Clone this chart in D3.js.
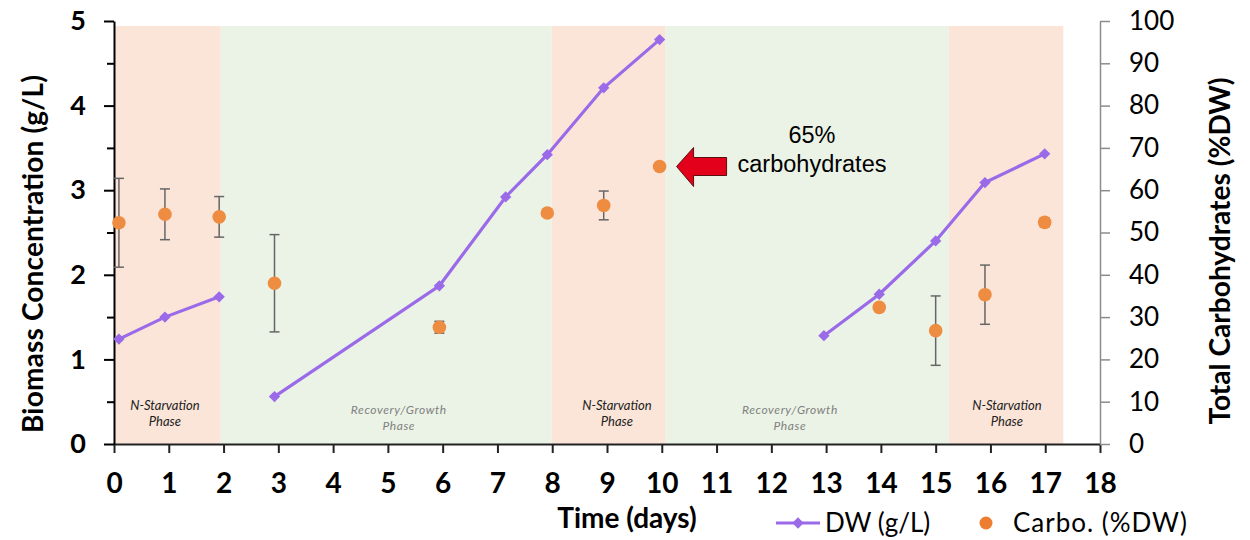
<!DOCTYPE html>
<html>
<head>
<meta charset="utf-8">
<script src="https://cdn.jsdelivr.net/npm/d3@7"></script>
<style>
  body { margin: 0; background: #fff; }
  svg { display: block; }
</style>
</head>
<body>
<div id="chart"></div>
<script>
// dry weight (g/L), left axis; segment id breaks the line between runs
var dwDays = [0.09, 0.93, 1.92, 2.93, 5.94, 7.15, 7.91, 8.94, 9.96, 12.96, 13.97, 15.0, 15.9, 16.99];
var dwVals = [1.24, 1.50, 1.74, 0.56, 1.87, 2.92, 3.42, 4.21, 4.78, 1.28, 1.77, 2.40, 3.09, 3.43];
var dwSeg  = [0, 0, 0, 1, 1, 1, 1, 1, 1, 2, 2, 2, 2, 2];

// total carbohydrates (%DW), right axis, with error half-widths
var carboDays = [0.09, 0.93, 1.92, 2.93, 5.94, 7.91, 8.94, 9.96, 13.97, 15.0, 15.9, 16.99];
var carboVals = [52.3, 54.3, 53.7, 38.0, 27.6, 54.6, 56.4, 65.6, 32.3, 26.8, 35.3, 52.4];
var carboErr  = [10.5, 6.0, 4.8, 11.5, 1.4, 0, 3.4, 0, 0, 8.2, 7.0, 1.0];

// shaded phases
var phaseStart = [0, 1.95, 7.99, 10.07, 15.24];
var phaseEnd   = [1.95, 7.99, 10.07, 15.24, 17.33];
var phaseType  = ['N', 'R', 'N', 'R', 'N'];
var phaseLabelDay = [0.93, 5.2, 9.18, 12.34, 16.3];
var phaseText = { N: ['N-Starvation', 'Phase'], R: ['Recovery/Growth', 'Phase'] };

var xTicks = d3.range(0, 19, 1);
var leftTicks = d3.range(0, 5.01, 0.5);
var rightTicks = d3.range(0, 101, 10);

var W = 1250, H = 540;
var svg = d3.select('#chart').append('svg').attr('width', W).attr('height', H);

var x = d3.scaleLinear().domain([0, 18]).range([114, 1100]);
var yL = d3.scaleLinear().domain([0, 5]).range([444, 21]);
var yR = d3.scaleLinear().domain([0, 100]).range([444, 21]);

var font = 'Lato, "Open Sans", sans-serif';

// phase bands
svg.selectAll('rect.band')
   .data(phaseStart)
   .enter()
   .append('rect')
   .attr('class', 'band')
   .attr('x', function(d){ return x(d); })
   .attr('y', yL(5) + 5)
   .attr('width', function(d, i){ return x(phaseEnd[i]) - x(d); })
   .attr('height', yL(0) - yL(5) - 5)
   .style('fill', function(d, i){ return phaseType[i] === 'N' ? '#fbe5d8' : '#ebf3e6'; });

// phase labels
phaseLabelDay.forEach(function(d, i) {
   var t = phaseType[i];
   var lab = svg.append('text')
      .attr('x', x(d))
      .attr('text-anchor', 'middle')
      .style('font-family', font)
      .style('font-style', 'italic')
      .style('font-size', t === 'N' ? '13px' : '12px')
      .style('letter-spacing', t === 'N' ? '0px' : '0.6px')
      .style('fill', t === 'N' ? '#222' : '#808080');
   phaseText[t].forEach(function(s, j) {
      lab.append('tspan').attr('x', x(d)).attr('y', (t === 'N' ? 410 : 414) + j * 16).text(s);
   });
});

// x axis
var xAxis = svg.append('g')
   .attr('transform', 'translate(0,' + yL(0) + ')')
   .call(d3.axisBottom(x).tickValues(xTicks).tickSize(9).tickSizeOuter(0).tickFormat(d3.format('d')));
xAxis.select('.domain').attr('stroke', '#222').attr('stroke-width', 2);
xAxis.selectAll('.tick line').attr('stroke', '#222').attr('stroke-width', 2);
xAxis.selectAll('.tick text')
     .attr('y', 29)
     .attr('dy', '0.71em')
     .style('font-family', font)
     .style('font-weight', 'bold')
     .style('font-size', '28px')
     .style('fill', '#000');

// left axis with half-unit minor ticks
var leftAxis = svg.append('g')
   .attr('transform', 'translate(' + x(0) + ',0)')
   .call(d3.axisLeft(yL).tickValues(leftTicks).tickSizeOuter(0)
      .tickFormat(function(d){ return d % 1 === 0 ? d : ''; }));
leftAxis.select('.domain').attr('stroke', '#000').attr('stroke-width', 2);
leftAxis.selectAll('.tick line')
        .attr('stroke', '#000')
        .attr('stroke-width', 2)
        .attr('x2', function(d){ return d % 1 === 0 ? -10 : -7; });
leftAxis.selectAll('.tick text')
        .attr('x', -28)
        .style('font-family', font)
        .style('font-weight', 'bold')
        .style('font-size', '27px')
        .style('fill', '#000');

// right axis
var rightAxis = svg.append('g')
   .attr('transform', 'translate(' + x(18) + ',0)')
   .call(d3.axisRight(yR).tickValues(rightTicks).tickSize(10).tickSizeOuter(0));
rightAxis.select('.domain').attr('stroke', '#8c8c8c').attr('stroke-width', 1.5);
rightAxis.selectAll('.tick line').attr('stroke', '#8c8c8c').attr('stroke-width', 1.5);
rightAxis.selectAll('.tick text')
         .attr('x', 29)
         .style('font-family', font)
         .style('font-size', '26px')
         .style('fill', '#000');

// axis titles
svg.append('text')
   .attr('transform', 'translate(43,254) rotate(-90)')
   .attr('text-anchor', 'middle')
   .attr('textLength', 358)
   .attr('lengthAdjust', 'spacing')
   .style('font-family', font)
   .style('font-weight', 'bold')
   .style('font-size', '28px')
   .text('Biomass Concentration (g/L)');

svg.append('text')
   .attr('transform', 'translate(1230,251) rotate(-90)')
   .attr('text-anchor', 'middle')
   .attr('textLength', 347)
   .attr('lengthAdjust', 'spacing')
   .style('font-family', font)
   .style('font-weight', 'bold')
   .style('font-size', '28px')
   .text('Total Carbohydrates (%DW)');

svg.append('text')
   .attr('x', 627)
   .attr('y', 528)
   .attr('text-anchor', 'middle')
   .style('font-family', font)
   .style('font-weight', 'bold')
   .style('font-size', '28px')
   .text('Time (days)');

// error bars
var errIdx = d3.range(carboDays.length).filter(function(i){ return carboErr[i] > 0; });
var eb = svg.append('g').attr('stroke', '#666').attr('stroke-width', 1.5);
errIdx.forEach(function(i) {
   var cx = x(carboDays[i]);
   var y1 = yR(carboVals[i] + carboErr[i]), y2 = yR(carboVals[i] - carboErr[i]);
   eb.append('line').attr('x1', cx).attr('x2', cx).attr('y1', y1).attr('y2', y2);
   eb.append('line').attr('x1', cx - 5).attr('x2', cx + 5).attr('y1', y1).attr('y2', y1);
   eb.append('line').attr('x1', cx - 5).attr('x2', cx + 5).attr('y1', y2).attr('y2', y2);
});

// DW line, split into runs
var purple = '#9a6ae8';
var line = d3.line()
   .x(function(i){ return x(dwDays[i]); })
   .y(function(i){ return yL(dwVals[i]); });
d3.groups(d3.range(dwDays.length), function(i){ return dwSeg[i]; }).forEach(function(g) {
   svg.append('path')
      .attr('d', line(g[1]))
      .style('fill', 'none')
      .style('stroke', purple)
      .style('stroke-width', 3.2);
});
var diamond = d3.symbol().type(d3.symbolSquare).size(64);
svg.selectAll('path.dw')
   .data(dwDays)
   .enter()
   .append('path')
   .attr('class', 'dw')
   .attr('d', diamond)
   .attr('transform', function(d, i){ return 'translate(' + x(d) + ',' + yL(dwVals[i]) + ') rotate(45)'; })
   .style('fill', purple);

// carbohydrate points
var orange = '#ee8d42';
svg.selectAll('circle.carbo')
   .data(carboDays)
   .enter()
   .append('circle')
   .attr('class', 'carbo')
   .attr('cx', function(d){ return x(d); })
   .attr('cy', function(d, i){ return yR(carboVals[i]); })
   .attr('r', 6.8)
   .style('fill', orange);

// annotation arrow + text
var ax = x(carboDays[7]) + 17, ay = yR(carboVals[7]);
svg.append('path')
   .attr('d', 'M' + ax + ',' + ay +
              'L' + (ax + 17) + ',' + (ay - 19) +
              'L' + (ax + 17) + ',' + (ay - 9) +
              'L' + (ax + 50) + ',' + (ay - 9) +
              'L' + (ax + 50) + ',' + (ay + 9) +
              'L' + (ax + 17) + ',' + (ay + 9) +
              'L' + (ax + 17) + ',' + (ay + 20) + 'Z')
   .style('fill', '#e2001a')
   .style('stroke', '#5a1010')
   .style('stroke-width', 1);

svg.append('text')
   .attr('x', 812)
   .attr('y', 143)
   .attr('text-anchor', 'middle')
   .style('font-family', '"Liberation Sans", Arial, sans-serif')
   .style('font-size', '23.5px')
   .text('65%');
svg.append('text')
   .attr('x', 812)
   .attr('y', 172)
   .attr('text-anchor', 'middle')
   .style('font-family', '"Liberation Sans", Arial, sans-serif')
   .style('font-size', '23.5px')
   .text('carbohydrates');

// legend
var lg = svg.append('g');
lg.append('line').attr('x1', 776).attr('x2', 820).attr('y1', 523).attr('y2', 523)
  .style('stroke', purple).style('stroke-width', 3);
lg.append('path').attr('d', diamond).attr('transform', 'translate(798,523) rotate(45)').style('fill', purple);
lg.append('text').attr('x', 825).attr('y', 532)
  .style('font-family', font).style('font-size', '26px').text('DW (g/L)');
lg.append('circle').attr('cx', 986).attr('cy', 523).attr('r', 6.5).style('fill', '#ed7d31');
lg.append('text').attr('x', 1013).attr('y', 532)
  .attr('textLength', 174)
  .attr('lengthAdjust', 'spacing')
  .style('font-family', font).style('font-size', '26px').text('Carbo. (%DW)');
</script>
</body>
</html>
